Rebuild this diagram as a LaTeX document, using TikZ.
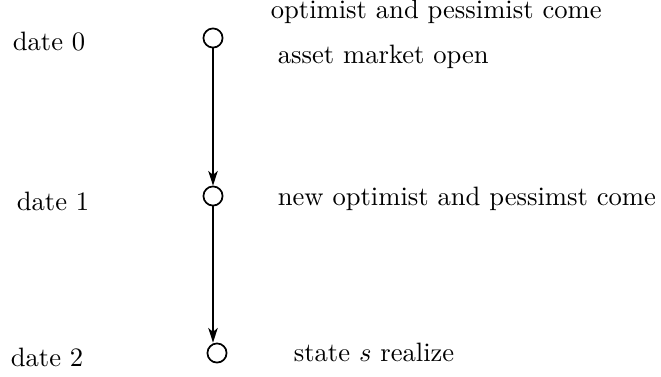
\documentclass[tikz,border=0pt]{standalone}
\usepackage{tikz}
\usetikzlibrary{arrows.meta, positioning}
\begin{document}
\begin{tikzpicture}[x=0.376pt, y=-0.376pt, >={Stealth[length=5.5pt, width=3.6pt, inset=1.5pt]}, line width=0.65pt]
    % Styles
    \tikzstyle{dot} = [draw, circle, inner sep=0pt, minimum size=7.2pt, fill=white]
    \tikzstyle{lab} = [anchor=west, inner sep=0pt]

    \useasboundingbox (0,0) rectangle (661,376);

    % Nodes
    \node (d0) [dot] at (213,38) {};
    \node (d1) [dot] at (213,196) {};
    \node (d2) [dot] at (217,353) {};

    \node (date0) [lab] at (12,42) {date 0};
    \node (date1) [lab] at (16,201) {date 1};
    \node (date2) [lab] at (10,357) {date 2};

    \node (come0) [lab] at (270,12) {optimist and pessimist come};
    \node (open0) [lab] at (277,57) {asset market open};
    \node (come1) [lab] at (277,199) {new optimist and pessimst come};
    \node (real2) [lab] at (293,352) {state $s$ realize};

    % Paths
    \draw [->] (d0) -- (d1);
    \draw [->] (d1.south) -- (d1.south |- d2.north);
\end{tikzpicture}
\end{document}
